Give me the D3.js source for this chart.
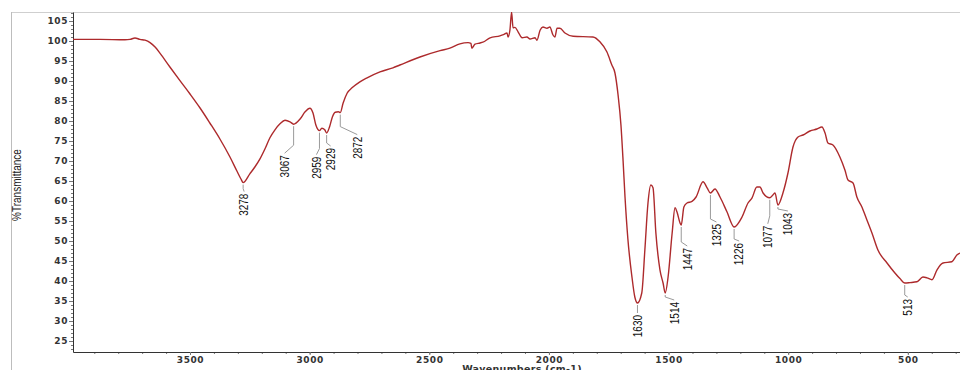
<!DOCTYPE html>
<html>
<head>
<meta charset="utf-8">
<script src="https://cdn.jsdelivr.net/npm/d3@7"></script>
<style>
  body { margin: 0; background: #fff; }
  svg { display: block; }
</style>
</head>
<body>
<div id="chart"></div>
<script>
// spectrum (wavenumber cm-1 / %T), 10 per row
var wavenumbers = [
    3989,3876,3772,3751,3730,3709,3688,3667,3646,3625,
    3584,3542,3500,3458,3417,3375,3333,3304,3287,3278,
    3250,3229,3207,3187,3166,3145,3124,3103,3082,3067,
    3040,3019,2999,2986,2974,2959,2949,2937,2929,2917,
    2905,2893,2880,2872,2860,2843,2823,2790,2760,2706,
    2652,2623,2539,2455,2414,2372,2338,2326,2322,2309,
    2288,2276,2246,2205,2190,2175,2171,2163,2156,2150,
    2142,2129,2112,2092,2079,2058,2050,2037,2025,2008,
    1996,1983,1975,1966,1954,1933,1899,1816,1787,1758,
    1737,1724,1711,1699,1690,1682,1670,1653,1641,1630,
    1612,1599,1586,1574,1565,1553,1536,1523,1514,1502,
    1485,1473,1465,1452,1447,1436,1423,1402,1385,1356,
    1339,1325,1306,1285,1256,1226,1193,1168,1151,1131,
    1118,1105,1077,1064,1055,1043,1022,1001,980,959,
    938,909,880,859,846,834,813,784,763,750,
    729,713,692,671,650,625,587,554,533,513,
    491,462,437,420,399,378,353,316,295,282
];
var transmittance = [
    100.4,100.4,100.3,100.4,100.75,100.4,100.2,99.6,98.5,96.9,
    93.5,90.1,86.75,83.25,79.5,75.5,71,67.5,65.5,64.6,
    66.8,68.5,70.6,73,75.8,77.8,79.3,80.2,79.8,79.2,
    80.5,82.3,83.2,82,79,77.6,78.2,77.8,77,78.5,
    81,82.2,82.3,82.1,84.5,87,88.3,89.8,90.8,92.3,
    93.3,94,96,97.6,98.2,99.3,99.6,99.4,98.2,99.2,
    99.5,99.7,100.8,101.3,101.6,102,101,102.7,107.2,103.3,
    103.4,102.3,100.8,101,100.5,100.8,100.2,102.7,103.5,103.2,
    103.5,101.5,101,103.2,103.2,102,101.2,101,99.8,97.3,
    94,92,86.5,79,70,61,50.5,41,36,34.5,
    37,47.8,59.5,64,63.3,52,42.8,39.5,37,41,
    52,58.3,57.3,54.5,54,58.5,59.5,59.9,61,64.8,
    63.3,62,63,61,57.3,53.5,56,59.5,60.8,63.5,
    63.5,62,60.8,61.5,62,59,62,67,73.5,76,
    76.5,77.5,78,78.5,77,74.5,74,71,67.75,65.25,
    64.5,61,58.5,55.25,52,47.75,44.5,42,40.6,39.5,
    39.6,39.8,41,40.8,40.3,42.8,44.5,44.8,46.5,47
];

// marked peaks
var peakNames = ["3278","3067","2959","2929","2872","1630","1514","1447","1325","1226","1077","1043","513"];
var peakWavenumbers = [3278,3067,2959,2929,2872,1630,1514,1447,1325,1226,1077,1043,513];

var xTicks = [3500,3000,2500,2000,1500,1000,500];
var yTicks = [25,30,35,40,45,50,55,60,65,70,75,80,85,90,95,100,105];

// label leader layout: vertical drop, then offset to the text
var leaderLayout = [
    {drop: 4, dx: 1, dy: 3},
    {drop: 19, dx: -9, dy: 8},
    {drop: 16, dx: -3, dy: 6},
    {drop: 8, dx: 4, dy: 3},
    {drop: 12, dx: 17, dy: 8},
    {drop: 5, dx: 0, dy: 3},
    {drop: 2, dx: 9, dy: 3},
    {drop: 15, dx: 6, dy: 4},
    {drop: 24, dx: 6, dy: 3},
    {drop: 10, dx: 5, dy: 2},
    {drop: 16, dx: -2, dy: 8},
    {drop: 2, dx: 10, dy: 2},
    {drop: 10, dx: 3, dy: 2}
];

var width = 960;
var height = 370;
var plot = {left: 73, right: 960, top: 12, bottom: 352};

var svg = d3.select("#chart")
    .append("svg")
    .attr("width", width)
    .attr("height", height);

var x = d3.scaleLinear()
    .domain([3989, 282])
    .range([plot.left, plot.right]);

var y = d3.scaleLinear()
    .domain([22.25, 107.25])
    .range([plot.bottom, plot.top]);

// outer frame lines
svg.append("line")
    .attr("x1", 11).attr("x2", width)
    .attr("y1", 12.5).attr("y2", 12.5)
    .attr("stroke", "#cfcfcf");
svg.append("line")
    .attr("x1", 11.5).attr("x2", 11.5)
    .attr("y1", 12).attr("y2", height)
    .attr("stroke", "#bdbdbd");

svg.append("clipPath")
    .attr("id", "clip")
    .append("rect")
    .attr("x", plot.left).attr("y", plot.top)
    .attr("width", plot.right - plot.left)
    .attr("height", plot.bottom - plot.top);

// minor ticks
svg.append("g")
    .attr("class", "minor")
    .attr("transform", "translate(" + plot.left + ",0)")
    .call(d3.axisLeft(y).tickValues(d3.range(23, 108, 1)).tickSize(2).tickFormat(""));
svg.append("g")
    .attr("class", "minor")
    .attr("transform", "translate(0," + plot.bottom + ")")
    .call(d3.axisBottom(x).tickValues(d3.range(300, 4000, 100)).tickSize(2).tickFormat(""));
svg.selectAll(".minor path.domain").remove();
svg.selectAll(".minor line").attr("stroke", "#999");

// main axes
svg.append("g")
    .attr("transform", "translate(" + plot.left + ",0)")
    .call(d3.axisLeft(y).tickValues(yTicks).tickSize(4).tickSizeOuter(0).tickPadding(1).tickFormat(d3.format("d")));
svg.append("g")
    .attr("transform", "translate(0," + plot.bottom + ")")
    .call(d3.axisBottom(x).tickValues(xTicks).tickSize(3).tickSizeOuter(0).tickPadding(2).tickFormat(d3.format("d")));

svg.selectAll("path.domain").attr("stroke", "#333");
svg.selectAll("g.tick line").attr("stroke", "#777");
svg.selectAll("g.tick text")
    .attr("fill", "#333")
    .style("font-family", "DejaVu Sans, sans-serif")
    .style("font-weight", "bold")
    .style("font-size", "9px")
    .style("letter-spacing", "0.6px");

// axis titles
svg.append("text")
    .attr("transform", "translate(17,185) scale(1.2,1) rotate(-90)")
    .attr("text-anchor", "middle")
    .attr("dominant-baseline", "central")
    .style("font-family", "Liberation Sans Narrow, Arial Narrow, sans-serif")
    .style("font-size", "10px")
    .attr("fill", "#222")
    .text("%Transmittance");

svg.append("text")
    .attr("x", 522)
    .attr("y", 372)
    .attr("text-anchor", "middle")
    .style("font-family", "DejaVu Sans, sans-serif")
    .style("font-weight", "bold")
    .style("font-size", "9.5px")
    .style("letter-spacing", "0.3px")
    .attr("fill", "#333")
    .text("Wavenumbers (cm-1)");

// spectrum
var spectrum = wavenumbers.map(function(w, i) { return {w: w, t: transmittance[i]}; });

var line = d3.line()
    .x(function(d) { return x(d.w); })
    .y(function(d) { return y(d.t); })
    .curve(d3.curveMonotoneX);

svg.append("path")
    .datum(spectrum)
    .attr("clip-path", "url(#clip)")
    .attr("d", line)
    .attr("fill", "none")
    .attr("stroke", "#ad2a2c")
    .attr("stroke-width", 1.4)
    .attr("stroke-linejoin", "round");

// peak labels
var interp = d3.scaleLinear()
    .domain(wavenumbers)
    .range(transmittance);

var peaks = peakWavenumbers.map(function(w, i) {
    return {name: peakNames[i], w: w, t: interp(w), lay: leaderLayout[i]};
});

var labels = svg.append("g");

labels.selectAll("polyline")
    .data(peaks)
    .enter()
    .append("polyline")
    .attr("points", function(d) {
        var px = x(d.w), py = y(d.t) + 2;
        var y1 = py + d.lay.drop;
        return [px, py, px, y1, px + d.lay.dx, y1 + d.lay.dy].join(",");
    })
    .attr("fill", "none")
    .attr("stroke", "#9a9a9a")
    .attr("stroke-width", 1);

labels.selectAll("text")
    .data(peaks)
    .enter()
    .append("text")
    .attr("transform", function(d) {
        var px = x(d.w) + d.lay.dx;
        var py = y(d.t) + 2 + d.lay.drop + d.lay.dy + 2;
        return "translate(" + px + "," + py + ") scale(1.2,1) rotate(-90)";
    })
    .attr("text-anchor", "end")
    .attr("dominant-baseline", "central")
    .style("font-family", "Liberation Sans Narrow, Arial Narrow, sans-serif")
    .style("font-size", "10px")
    .attr("fill", "#111")
    .text(function(d) { return d.name; });
</script>
</body>
</html>
